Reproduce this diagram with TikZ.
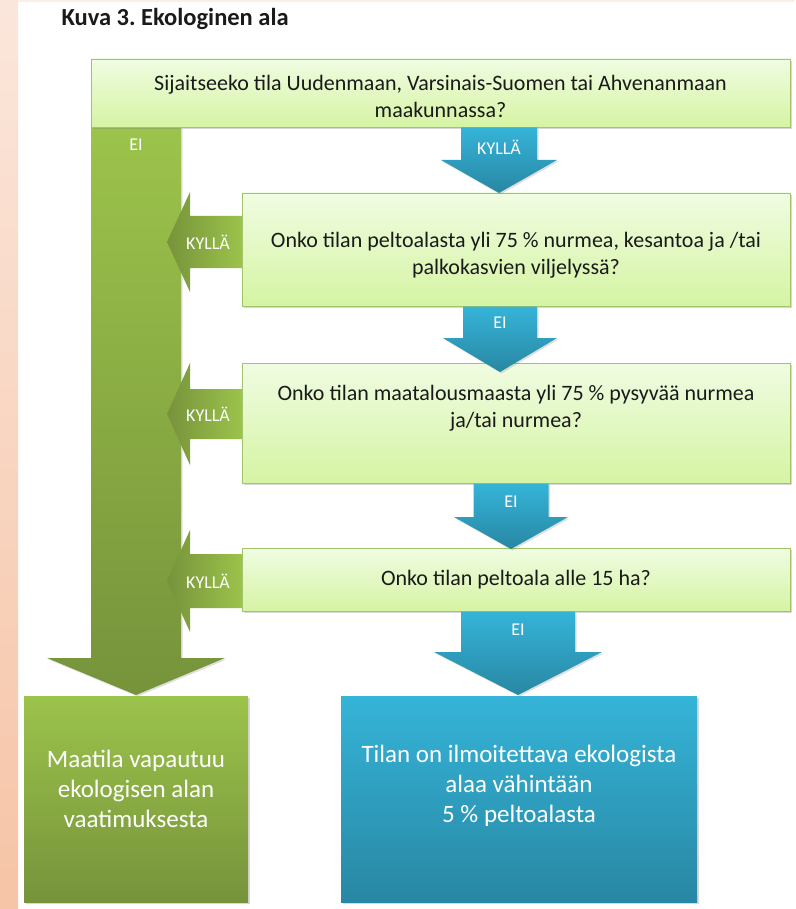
\documentclass[tikz,border=0pt]{standalone}
\usepackage{fontspec}
\setmainfont{Carlito}
\usetikzlibrary{shadows,calc}
\definecolor{peachTop}{HTML}{FBE6DB}
\definecolor{peachBot}{HTML}{F6C4A6}
\definecolor{qTop}{HTML}{F0FCE2}
\definecolor{qBot}{HTML}{D5F4A3}
\definecolor{qLine}{HTML}{A3C46A}
\definecolor{gTop}{HTML}{9CC34B}
\definecolor{gBot}{HTML}{76933B}
\definecolor{bTop}{HTML}{35B4D8}
\definecolor{bBot}{HTML}{2887A3}
\definecolor{txt}{HTML}{1A1A1A}
\newcommand\leftblock[3]{%
  \shade[left color=gBot, right color=gTop]
    (242,#1-#2) -- (190,#1-#2) -- (190,#1-#3) -- (167,#1) -- (190,#1+#3)
    -- (190,#1+#2) -- (242,#1+#2) -- cycle;}
\newcommand\downblock[6]{%
  \shade[top color=bTop, bottom color=bBot,
         drop shadow={shadow xshift=1.5pt,shadow yshift=-1.5pt,opacity=0.25}]
    (#1-#3,#2) -- (#1+#3,#2) -- (#1+#3,#4) -- (#1+#5,#4) -- (#1,#6)
    -- (#1-#5,#4) -- (#1-#3,#4) -- cycle;}
\begin{document}
\frenchspacing
\begin{tikzpicture}[x=1pt,y=-1pt,
  qbox/.style={draw=qLine, line width=0.9pt, top color=qTop, bottom color=qBot,
    anchor=north west, inner sep=0pt, outer sep=0pt,
    drop shadow={shadow xshift=2pt,shadow yshift=-2pt,opacity=0.3}},
  qtext/.style={align=center, text=txt, font=\fontsize{22}{27}\selectfont},
  lab/.style={text=white, font=\fontsize{18}{20}\selectfont},
  endtext/.style={align=center, text=white, font=\fontsize{25}{30}\selectfont},
  endbox/.style={anchor=north west, inner sep=0pt, outer sep=0pt,
    drop shadow={shadow xshift=2pt,shadow yshift=-2pt,opacity=0.3}}]
\useasboundingbox (0,0) rectangle (795,909);
\fill[white] (0,0) rectangle (795,909);
\shade[top color=peachTop, bottom color=peachBot] (0,0) rectangle (18,909);
\fill[peachTop!70!white] (18,0) rectangle (795,2.5);

\node[anchor=base west, text=txt, font=\bfseries\fontsize{24.5}{28}\selectfont]
  (title) at (58,26) {Kuva 3. Ekologinen ala};

% big green column with arrow head
\shade[top color=gTop, bottom color=gBot,
       drop shadow={shadow xshift=1.5pt,shadow yshift=-1.5pt,opacity=0.25}]
  (91,127) -- (181,127) -- (181,658) -- (225,658) -- (136,695) -- (47,658)
  -- (91,658) -- cycle;

% left KYLLÄ arrows
\leftblock{242}{26}{50}
\leftblock{414}{25}{51}
\leftblock{581}{27}{51}

% question boxes
\node[qbox, minimum width=699pt, minimum height=68pt] (q1) at (91,59) {};
\node[qbox, minimum width=548pt, minimum height=113pt] (q2) at (242,193) {};
\node[qbox, minimum width=548pt, minimum height=120pt] (q3) at (242,363) {};
\node[qbox, minimum width=548pt, minimum height=63pt] (q4) at (242,548) {};

\node[qtext] (t1) at ([yshift=-3pt]q1.center)
  {Sijaitseeko tila Uudenmaan, Varsinais-Suomen tai Ahvenanmaan\\maakunnassa?};
\node[qtext] (t2) at ([yshift=-6pt]q2.center)
  {Onko tilan peltoalasta yli 75 \% nurmea, kesantoa ja /tai\\palkokasvien viljelyssä?};
\node[qtext] (t3) at ([yshift=15pt]q3.center)
  {Onko tilan maatalousmaasta yli 75 \% pysyvää nurmea\\ja/tai nurmea?};
\node[qtext] (t4) at (q4.center) {Onko tilan peltoala alle 15 ha?};

% down EI / KYLLÄ arrows
\downblock{499}{127.5}{38}{160}{58}{193}
\downblock{500}{306.5}{37}{338}{57}{372}
\downblock{511}{483.5}{37.5}{517}{57}{549}
\downblock{518}{611.5}{57}{652}{84}{695}

% labels
\node[lab] (e0) at (136,145) {EI};
\node[lab] (k0) at (499,147) {KYLLÄ};
\node[lab] (k1) at (208,242) {KYLLÄ};
\node[lab] (k2) at (208,414) {KYLLÄ};
\node[lab] (k3) at (208,581) {KYLLÄ};
\node[lab] (e1) at (500,323) {EI};
\node[lab] (e2) at (511,502) {EI};
\node[lab] (e3) at (518,630) {EI};

% result boxes
\node[endbox, minimum width=224pt, minimum height=206pt,
      top color=gTop, bottom color=gBot] (r1) at (24,696) {};
\node[endbox, minimum width=356pt, minimum height=206pt,
      top color=bTop, bottom color=bBot] (r2) at (341,696) {};
\node[endtext] (rt1) at ([yshift=10pt]r1.center)
  {Maatila vapautuu\\ekologisen alan\\vaatimuksesta};
\node[endtext] (rt2) at ([yshift=13pt]r2.center)
  {Tilan on ilmoitettava ekologista\\alaa vähintään\\5 \% peltoalasta};
\end{tikzpicture}
\end{document}
